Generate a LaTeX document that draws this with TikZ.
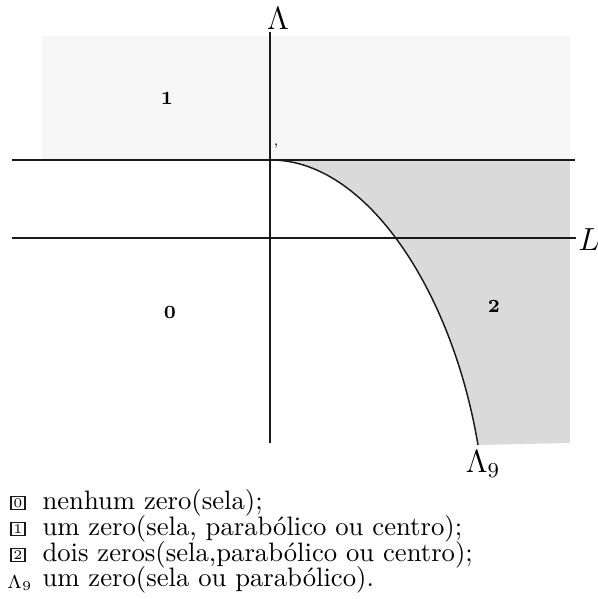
\documentclass[tikz,border=0pt]{standalone}
\usepackage{amsmath}
\usepackage{tikz}
\usetikzlibrary{positioning}
\definecolor{ZRInk}{HTML}{1A1A1A}
\definecolor{ZRLight}{HTML}{F6F6F6}
\definecolor{ZRShade}{HTML}{DADADA}
\tikzset{
  axisline/.style={draw=ZRInk, line width=0.55pt},
  regionlabel/.style={font=\scriptsize\bfseries, inner sep=0pt},
  legendbox/.style={draw=ZRInk, line width=0.45pt, font=\tiny, inner sep=0.9pt,
    text height=3.3pt, text depth=0pt},
  legendtext/.style={anchor=base west, inner sep=0pt}
}
\newcommand{\legendrow}[4]{%
  \node[legendbox] (key#1) at (18,#2) {#3};
  \node[legendtext] (txt#1) at (42,{#2+6}) {#4};
}

\begin{document}
\begin{tikzpicture}[x=0.375pt,y=-0.375pt]
  \useasboundingbox (0,0) rectangle (598,599);

  % shaded regions
  \fill[ZRLight] (42,36) rectangle (570,160);
  \fill[ZRShade] (271,160) .. controls (366,160) and (452,290) .. (478,445)
    -- (570,443) -- (570,160) -- cycle;

  % axes and lines
  \coordinate (top) at (270,32);
  \coordinate (bot) at (270,443);
  \coordinate (hl) at (12,160);
  \coordinate (hr) at (575,160);
  \coordinate (ll) at (12,238);
  \coordinate (lr) at (576,238);
  \coordinate (origin) at (271,160);
  \coordinate (curveend) at (478,445);
  \draw[axisline] (top) -- (bot);
  \draw[axisline] (hl) -- (hr);
  \draw[axisline] (ll) -- (lr);
  \draw[axisline] (origin) .. controls (366,160) and (452,290) .. (curveend);

  % labels
  \node[font=\large] (lam) at (278,19) {$\Lambda$};
  \node[font=\large] (ell) at (589,240) {$L$};
  \node[font=\large] (lam9) at (483,464) {$\Lambda_9$};
  \node[font=\tiny, inner sep=0pt] (tick) at (276,146) {,};
  \node[regionlabel] (reg1) at (167,98) {1};
  \node[regionlabel] (reg0) at (170,312) {0};
  \node[regionlabel] (reg2) at (494,306) {2};

  % legend
  \legendrow{0}{503}{0}{nenhum zero(sela);}
  \legendrow{1}{529}{1}{um zero(sela, parab\'olico ou centro);}
  \legendrow{2}{555}{2}{dois zeros(sela,parab\'olico ou centro);}
  \node[font=\scriptsize, inner sep=0pt] (key9) at (20,583) {$\Lambda_9$};
  \node[legendtext] (txt9) at (42,586) {um zero(sela ou parab\'olico).};
\end{tikzpicture}
\end{document}
